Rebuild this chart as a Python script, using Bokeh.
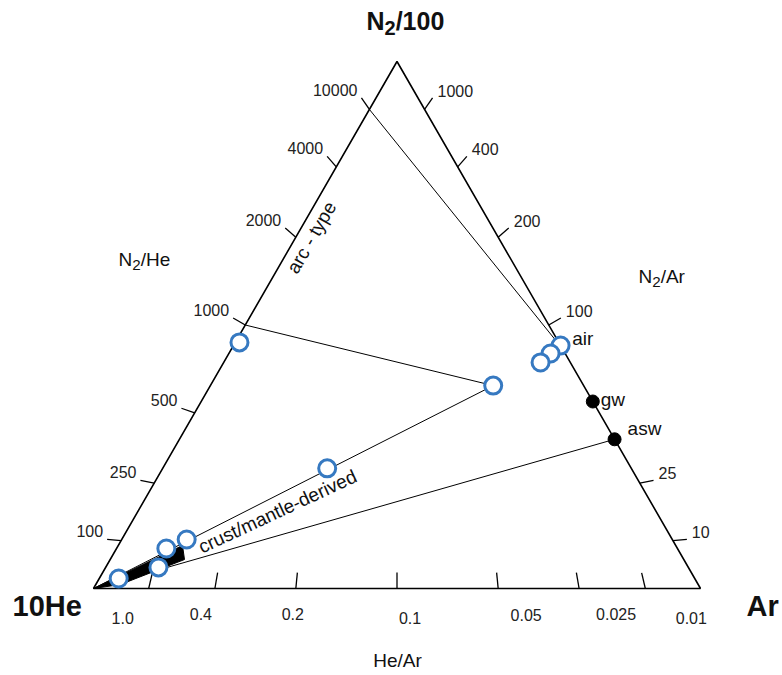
import math
from bokeh.plotting import figure
from bokeh.models import Range1d
from bokeh.core.properties import value
from bokeh.embed import file_html
from bokeh.resources import INLINE

# ---------------- data (fractions of 10He, N2/100, Ar) ----------------
sample_he10 = [0.526, 0.149, 0.501, 0.800, 0.842, 0.873, 0.949, 0.000, 0.024, 0.049]
sample_n2 = [0.467, 0.385, 0.228, 0.093, 0.076, 0.040, 0.019, 0.461, 0.446, 0.429]
sample_ar = [0.007, 0.466, 0.271, 0.107, 0.082, 0.087, 0.032, 0.539, 0.530, 0.522]

# reference fluids on the He-free edge, as N2/Ar ratios
ref_names = ["air", "gw", "asw"]
ref_n2_ar = [83.6, 55.0, 39.5]

# end of the arc-type mixing line and of the upper crust line (N2/He on Ar-free edge)
arc_n2_he = 10000
upper_n2_he = 1000

# black crust/mantle field near the He apex
wedge_he10 = [1.000, 0.8126, 0.8226, 0.9517]
wedge_n2 = [0.000, 0.0816, 0.0550, 0.0076]
wedge_ar = [0.000, 0.1058, 0.1224, 0.0407]

# axis ticks
he_ar_ticks = [1.0, 0.4, 0.2, 0.1, 0.05, 0.025, 0.01]
he_ar_labels = ["1.0", "0.4", "0.2", "0.1", "0.05", "0.025", "0.01"]
n2_he_ticks = [100, 250, 500, 1000, 2000, 4000, 10000]
n2_ar_ticks = [10, 25, 100, 200, 400, 1000]

# ---------------- geometry helpers ----------------
SQ3 = math.sqrt(3.0)
W, H = 782, 675
SX, SY = 607.0, 608.5          # pixels per ternary unit
OX, OY = 93.0, 87.0            # pixel position of the 10He apex in the frame (from left / bottom)

FONT = "Liberation Sans"
BLUE = "#3679c1"


def cart(he, n2, ar):
    s = he + n2 + ar
    return (ar + n2 / 2.0) / s, (n2 * SQ3 / 2.0) / s


def left_pt(r):   # N2/He ratio on the Ar-free edge
    f = r / (r + 1000.0)
    return cart(1 - f, f, 0)


def right_pt(r):  # N2/Ar ratio on the He-free edge
    f = r / (r + 100.0)
    return cart(0, f, 1 - f)


def bottom_pt(r):  # He/Ar ratio on the N2-free edge
    a = 1.0 / (1.0 + 10.0 * r)
    return cart(1 - a, 0, a)


def tick_end(p, focal, length=14.0):
    dx = (p[0] - focal[0]) * SX
    dy = (p[1] - focal[1]) * SY
    n = math.hypot(dx, dy)
    return p[0] + dx / n * length / SX, p[1] + dy / n * length / SY


def px(x_page, y_page):
    """picture pixel -> data coordinates (for layout of annotations)"""
    return (x_page - OX) / SX, (H - y_page - OY) / SY


p = figure(width=W, height=H, output_backend="svg", toolbar_location=None,
           x_range=Range1d(-OX / SX, (W - OX) / SX),
           y_range=Range1d(-OY / SY, (H - OY) / SY),
           min_border=0)
p.axis.visible = False
p.grid.visible = False
p.outline_line_color = None
p.background_fill_color = "white"
p.border_fill_color = "white"

# ---------------- triangle ----------------
A_he = cart(1, 0, 0)
A_n2 = cart(0, 1, 0)
A_ar = cart(0, 0, 1)
p.line([A_he[0], A_n2[0], A_ar[0], A_he[0]], [A_he[1], A_n2[1], A_ar[1], A_he[1]],
       line_color="black", line_width=1.6)

# ---------------- ticks ----------------
tick_font = dict(text_font=value(FONT), text_font_size="16px", text_color="#222222")

# left edge: ticks along lines from the Ar apex
lx0, ly0, lx1, ly1 = [], [], [], []
for r in n2_he_ticks:
    a = left_pt(r)
    b = tick_end(a, A_ar)
    lx0.append(a[0]); ly0.append(a[1]); lx1.append(b[0]); ly1.append(b[1])
p.segment(lx0, ly0, lx1, ly1, line_color="black", line_width=1.3)
p.text(lx1, ly1, text=[str(r) for r in n2_he_ticks], text_align="right",
       text_baseline="middle", x_offset=-4, y_offset=-8, **tick_font)

# right edge: ticks along lines from the 10He apex
rx0, ry0, rx1, ry1 = [], [], [], []
for r in n2_ar_ticks:
    a = right_pt(r)
    b = tick_end(a, A_he)
    rx0.append(a[0]); ry0.append(a[1]); rx1.append(b[0]); ry1.append(b[1])
p.segment(rx0, ry0, rx1, ry1, line_color="black", line_width=1.3)
p.text(rx1, ry1, text=[str(r) for r in n2_ar_ticks], text_align="left",
       text_baseline="middle", x_offset=5, y_offset=-7, **tick_font)

# bottom edge
focal = (0.5, SQ3)
bx0, by0, bx1, by1 = [], [], [], []
for r in he_ar_ticks:
    a = bottom_pt(r)
    b = tick_end(a, focal, 16.0)
    b = (a[0] - (b[0] - a[0]), a[1] - (b[1] - a[1]))
    bx0.append(a[0]); by0.append(a[1]); bx1.append(b[0]); by1.append(b[1])
p.segment(bx0, by0, bx1, by1, line_color="black", line_width=1.3)
b_xoff = [-26, -14, -3, 13, 28, 37, 46]
b_yoff = [29, 25, 25, 29, 26, 25, 29]
for i, lab in enumerate(he_ar_labels):
    p.text([bx0[i]], [by0[i]], text=[lab], text_align="center", text_baseline="middle",
           x_offset=b_xoff[i], y_offset=b_yoff[i], **tick_font)

# ---------------- mixing lines ----------------
ref_pts = [right_pt(r) for r in ref_n2_ar]
air, gw, asw = ref_pts
samples = [cart(h, n, a) for h, n, a in zip(sample_he10, sample_n2, sample_ar)]
s_end = samples[1]

arc_start = left_pt(arc_n2_he)
p.line([arc_start[0], air[0]], [arc_start[1], air[1]], line_color="black", line_width=1.0)
up_start = left_pt(upper_n2_he)
p.line([up_start[0], s_end[0]], [up_start[1], s_end[1]], line_color="black", line_width=1.0)
p.line([A_he[0], s_end[0]], [A_he[1], s_end[1]], line_color="black", line_width=1.0)
p.line([A_he[0], asw[0]], [A_he[1], asw[1]], line_color="black", line_width=1.0)

wedge = [cart(h, n, a) for h, n, a in zip(wedge_he10, wedge_n2, wedge_ar)]
p.patch([w[0] for w in wedge], [w[1] for w in wedge], fill_color="black", line_color="black",
        line_width=1.0)

# ---------------- points ----------------
p.scatter([s[0] for s in samples], [s[1] for s in samples], size=17, marker="circle",
          fill_color="white", line_color=BLUE, line_width=3)
p.scatter([gw[0], asw[0]], [gw[1], asw[1]], size=13, marker="circle",
          fill_color="black", line_color="black")

lab_font = dict(text_font=value(FONT), text_font_size="19px", text_color="#111111")
p.text([air[0]], [air[1]], text=["air"], text_align="left", text_baseline="middle",
       x_offset=10, y_offset=-10, **lab_font)
p.text([gw[0]], [gw[1]], text=["gw"], text_align="left", text_baseline="middle",
       x_offset=8, y_offset=-2, **lab_font)
p.text([asw[0]], [asw[1]], text=["asw"], text_align="left", text_baseline="middle",
       x_offset=13, y_offset=-11, **lab_font)

# rotated field labels
x, y = px(311, 237)
p.text([x], [y], text=["arc - type"], angle=math.radians(60), text_align="center",
       text_baseline="middle", **lab_font)
x, y = px(277, 511)
p.text([x], [y], text=["crust/mantle-derived"], angle=math.radians(25), text_align="center",
       text_baseline="middle", **lab_font)


# ---------------- axis titles ----------------
def sub_label(xp, yp, a, sub, rest, size, bold=False):
    style = "bold" if bold else "normal"
    x, y = px(xp, yp)
    w_a = 0.722 * size
    ss = 0.8 * size
    w_s = 0.556 * ss
    p.text([x], [y], text=[a], text_align="left", text_baseline="middle",
           text_font=value(FONT), text_font_size=f"{size}px", text_font_style=style,
           text_color="#111111")
    p.text([x], [y], text=[sub], text_align="left", text_baseline="middle",
           x_offset=w_a, y_offset=0.3 * size,
           text_font=value(FONT), text_font_size=f"{ss:.1f}px", text_font_style=style,
           text_color="#111111")
    p.text([x], [y], text=[rest], text_align="left", text_baseline="middle",
           x_offset=w_a + w_s, text_font=value(FONT), text_font_size=f"{size}px",
           text_font_style=style, text_color="#111111")


sub_label(366, 20, "N", "2", "/100", 25, bold=True)
sub_label(118, 259, "N", "2", "/He", 19)
sub_label(638, 276, "N", "2", "/Ar", 19)

x, y = px(12, 605)
p.text([x], [y], text=["10He"], text_align="left", text_baseline="middle",
       text_font=value(FONT), text_font_size="29px", text_font_style="bold", text_color="#111111")
x, y = px(746, 605)
p.text([x], [y], text=["Ar"], text_align="left", text_baseline="middle",
       text_font=value(FONT), text_font_size="29px", text_font_style="bold", text_color="#111111")
x, y = px(397, 660)
p.text([x], [y], text=["He/Ar"], text_align="center", text_baseline="middle",
       text_font=value(FONT), text_font_size="19px", text_color="#111111")

open("out.html", "w").write(file_html(p, INLINE))
